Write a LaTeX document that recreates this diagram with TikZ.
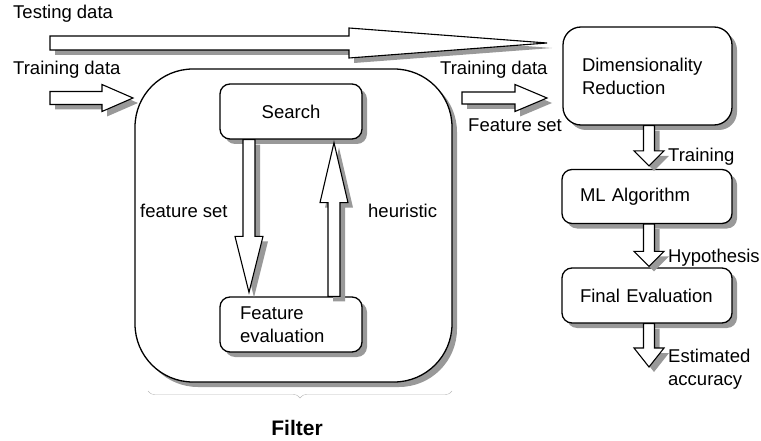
\documentclass[tikz,border=0pt]{standalone}
\usepackage{fontspec}
\setmainfont{Liberation Sans}
\usetikzlibrary{calc,shadows,decorations.pathreplacing}

\newcommand{\fatpath}[5]{($(#1)!#3pt!90:(#2)$) -- ($(#5)!#3pt!90:(#2)$) -- ($(#5)!#4pt!90:(#2)$) -- (#2) -- ($(#5)!#4pt!-90:(#2)$) -- ($(#5)!#3pt!-90:(#2)$) -- ($(#1)!#3pt!-90:(#2)$) -- cycle}
\newcommand{\fatarrow}[5]{%
  \coordinate (ta) at (#1);
  \coordinate (tb) at (#2);
  \coordinate (hb) at ($(tb)!#5pt!(ta)$);
  \coordinate (sa) at ($(ta)+(5pt,-5pt)$);
  \coordinate (sb) at ($(tb)+(5pt,-5pt)$);
  \coordinate (sh) at ($(hb)+(5pt,-5pt)$);
  \fill[arrowshadow] \fatpath{sa}{sb}{#3}{#4}{sh};
  \draw[arrowbody] \fatpath{ta}{tb}{#3}{#4}{hb};
}

\begin{document}
\begin{tikzpicture}[x=1pt,y=-1pt,font=\fontsize{18.5}{23}\selectfont,
  box/.style={draw,line width=1.3pt,fill=white,rounded corners=10pt,inner ysep=0pt,
    drop shadow={shadow xshift=5pt,shadow yshift=-5pt,fill=black!40,opacity=1}},
  stagebox/.style={box,align=left,text width=134pt,inner xsep=18pt,minimum height=54pt},
  lbl/.style={inner sep=0pt},
  arrowbody/.style={draw,line width=1.1pt,fill=white,line join=miter},
  arrowshadow/.style={fill=black!40}]
  \useasboundingbox (0,0) rectangle (761,441);

  \node[box,rounded corners=58pt,minimum width=317pt,minimum height=313pt] (filter) at (293.5,225.5) {};
  \node[box,minimum width=142pt,minimum height=55pt] (search) at (291,111.5) {Search};
  \node[box,align=left,text width=102pt,inner xsep=20pt,minimum height=55pt] (feval) at (291,324.5) {Feature\\evaluation};
  \node[box,rounded corners=18pt,align=left,text width=131pt,inner xsep=19pt,minimum height=98pt] (dimred) at (647.5,76) {Dimensionality\\Reduction};
  \node[stagebox] (mlalg) at (647,196.5) {ML Algorithm};
  \node[stagebox,minimum height=55pt] (final) at (647,295.5) {Final Evaluation};

  \coordinate (testin) at (50,43);
  \coordinate (testout) at (547,43);
  \coordinate (trainin) at (50,98);
  \coordinate (trainout) at (133,98);
  \coordinate (fsin) at (462,98);
  \coordinate (fsout) at (547,98);
  \coordinate (accout) at (649,367);

  \fatarrow{testin}{testout}{7}{15}{198}
  \fatarrow{trainin}{trainout}{6.5}{13.5}{31}
  \fatarrow{fsin}{fsout}{6}{13.5}{32}
  \fatarrow{$(search.south)+(-42,0)$}{$(feval.north)+(-42,-4)$}{6}{14}{56}
  \fatarrow{$(feval.north)+(43,0)$}{$(search.south)+(43,3)$}{6}{14}{60}
  \fatarrow{$(dimred.south)+(1.5,0)$}{$(mlalg.north)+(2,-3)$}{5.5}{15}{15}
  \fatarrow{$(mlalg.south)+(2,0)$}{$(final.north)+(2,-1)$}{5.5}{15}{15}
  \fatarrow{$(final.south)+(2,0)$}{accout}{5.5}{15}{19}

  \node[lbl,anchor=base west] (testlbl) at (13,19) {Testing data};
  \node[lbl,anchor=base west] (trainlbl) at (13,75) {Training data};
  \node[lbl,anchor=base west] (trainlbl2) at (440,75) {Training data};
  \node[lbl,anchor=base west] (fsetlbl) at (468,132) {Feature set};
  \node[lbl,anchor=base west] (fslbl) at (140,218) {feature set};
  \node[lbl,anchor=base west] (heurlbl) at (368,218) {heuristic};
  \node[lbl,anchor=base west] (trnlbl) at (668,162) {Training};
  \node[lbl,anchor=base west] (hyplbl) at (668,262) {Hypothesis};
  \node[lbl,anchor=north west,align=left] (estlbl) at (668,349) {Estimated\\accuracy};

  \draw[black!28,decorate,decoration={brace,amplitude=7pt}] (452,391) -- (148,391);
  \node[lbl,anchor=base,font=\bfseries\fontsize{21}{25}\selectfont] (filterlbl) at (297,435) {Filter};
\end{tikzpicture}
\end{document}
